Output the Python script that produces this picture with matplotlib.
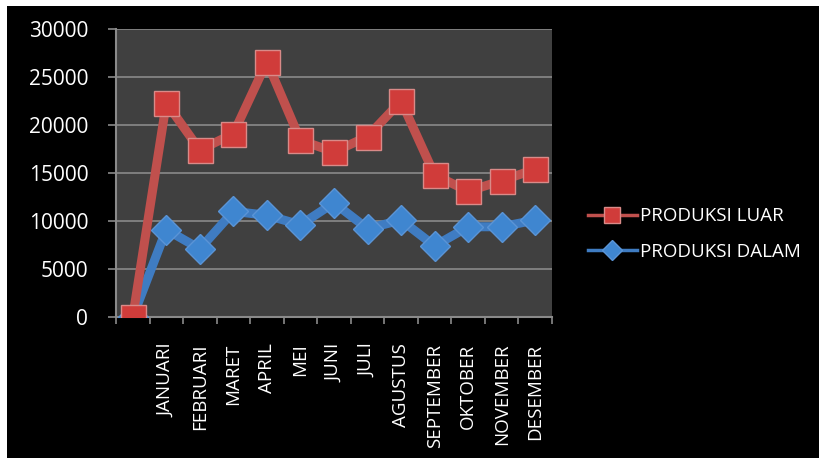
import matplotlib
matplotlib.use("Agg")
import matplotlib.pyplot as plt
from matplotlib.patches import Rectangle
from matplotlib.lines import Line2D

categories = ["", "JANUARI", "FEBRUARI", "MARET", "APRIL", "MEI", "JUNI", "JULI",
              "AGUSTUS", "SEPTEMBER", "OKTOBER", "NOVEMBER", "DESEMBER"]
produksi_luar = [0, 22300, 17400, 19100, 26600, 18400, 17200, 18800, 22500,
                 14800, 13100, 14200, 15400]
produksi_dalam = [0, 9100, 7100, 11000, 10600, 9600, 11900, 9200, 10100,
                  7400, 9400, 9400, 10100]
y_ticks = [0, 5000, 10000, 15000, 20000, 25000, 30000]

plt.rcParams['font.family'] = ['Open Sans', 'DejaVu Sans']

W, H = 819, 458
fig = plt.figure(figsize=(W / 100, H / 100), dpi=100)
fig.patch.set_facecolor('white')
fig.add_artist(Rectangle((7 / W, 0), 1, 1 - 6 / H, transform=fig.transFigure,
                         facecolor='black', edgecolor='none', zorder=-10))

ax = fig.add_axes([116 / W, (H - 317) / H, (552 - 116) / W, (317 - 29) / H])
ax.set_facecolor('#404040')

x = list(range(len(categories)))
ax.plot(x, produksi_dalam, color='#3F7CC2', lw=6.5, marker='D', ms=15,
        mfc='#3F86D0', mec='#5A94D6', mew=1, zorder=3, label='PRODUKSI DALAM')
ax.plot(x, produksi_luar, color='#C0504D', lw=6.5, marker='s', ms=18,
        mfc='#D03C3A', mec='#D98A88', mew=1, zorder=4, label='PRODUKSI LUAR')

ax.set_xlim(-0.5, len(categories) - 0.5)
ax.set_ylim(0, 30000)
ax.set_yticks(y_ticks)
ax.set_yticklabels([str(v) for v in y_ticks])
ax.yaxis.grid(True, color='#8A8A8A', lw=1.2)
ax.set_axisbelow(True)

ax.set_xticks([i - 0.5 for i in range(len(categories) + 1)], minor=False)
ax.set_xticklabels([])
ax.set_xticks(x, minor=True)
ax.set_xticklabels(categories, minor=True, rotation=90, color='white',
                   fontsize=13.5, va='top', ha='center')
ax.tick_params(axis='x', which='minor', length=0, pad=19)
ax.tick_params(axis='x', which='major', length=5, color='#8A8A8A', width=1.2)
ax.tick_params(axis='y', length=6, color='#8A8A8A', width=1.2,
               labelsize=15, pad=14)
for lab in ax.get_yticklabels():
    lab.set_color('white')

for s in ['top', 'right']:
    ax.spines[s].set_visible(False)
for s in ['left', 'bottom']:
    ax.spines[s].set_color('#8A8A8A')
    ax.spines[s].set_linewidth(1.5)

hl = [Line2D([], [], color='#C0504D', lw=2.5, marker='s', ms=12, mfc='#D03C3A', mec='#D98A88'),
      Line2D([], [], color='#3F7CC2', lw=2.5, marker='D', ms=10, mfc='#3F86D0', mec='#5A94D6')]
leg = fig.legend(hl, ['PRODUKSI LUAR', 'PRODUKSI DALAM'], loc='center left',
                 bbox_to_anchor=(571 / W, (H - 234) / H), frameon=False,
                 fontsize=13.5, labelcolor='white', handlelength=2.6,
                 handletextpad=0.2, labelspacing=0.95)

fig.savefig('out.png', dpi=100, facecolor=fig.get_facecolor())
